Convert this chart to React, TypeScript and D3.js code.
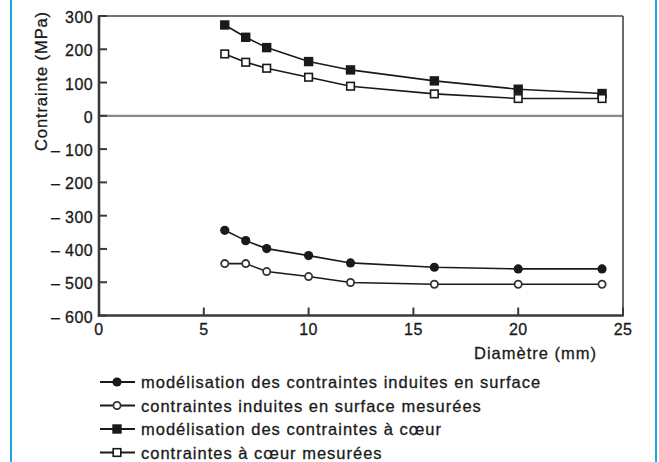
import React from "react";
import * as d3 from "d3";

// Diameters (mm) at which stresses were evaluated
const diameters = [6, 7, 8, 10, 12, 16, 20, 24];

// Stress values (MPa)
const surfaceModel = [-344, -375, -399, -420, -442, -455, -460, -460];
const surfaceMeasured = [-444, -444, -468, -483, -501, -506, -506, -506];
const coreModel = [273, 236, 205, 163, 138, 105, 80, 67];
const coreMeasured = [186, 161, 143, 116, 89, 66, 52, 52];

const yTicks = [300, 200, 100, 0, -100, -200, -300, -400, -500, -600];
const xTicks = [0, 5, 10, 15, 20, 25];

const legendLabels = [
  "modélisation des contraintes induites en surface",
  "contraintes induites en surface mesurées",
  "modélisation des contraintes à cœur",
  "contraintes à cœur mesurées",
];

type MarkerKind = "circleFilled" | "circleOpen" | "squareFilled" | "squareOpen";

const seriesList: { values: number[]; marker: MarkerKind }[] = [
  { values: surfaceModel, marker: "circleFilled" },
  { values: surfaceMeasured, marker: "circleOpen" },
  { values: coreModel, marker: "squareFilled" },
  { values: coreMeasured, marker: "squareOpen" },
];

const W = 659;
const H = 462;
const FONT = "'Liberation Sans', Arial, Helvetica, sans-serif";
const INK = "#1a1a1a";

function Marker({ kind, x, y }: { kind: MarkerKind; x: number; y: number }) {
  switch (kind) {
    case "circleFilled":
      return <circle cx={x} cy={y} r={4.6} fill={INK} />;
    case "circleOpen":
      return <circle cx={x} cy={y} r={3.6} fill="#fff" stroke="#333" strokeWidth={1.8} />;
    case "squareFilled":
      return <rect x={x - 4.7} y={y - 4.7} width={9.4} height={9.4} fill={INK} />;
    case "squareOpen":
      return (
        <rect x={x - 3.8} y={y - 3.8} width={7.6} height={7.6} fill="#fff" stroke={INK} strokeWidth={1.6} />
      );
  }
}

export default function App() {
  const x = d3.scaleLinear().domain([0, 25]).range([99, 623]);
  const y = d3.scaleLinear().domain([-600, 300]).range([315.5, 16]);

  const line = d3
    .line<number>()
    .x((_, i) => x(diameters[i]))
    .y((v) => y(v));

  const [x0, x1] = x.range();
  const [yb, yt] = y.range();

  const fmt = (v: number) => (v < 0 ? `\u2013 ${Math.abs(v)}` : `${v}`);

  const legendY = [382, 405.5, 429, 452.5];

  // Text is drawn with a hairline stroke to give it the weight of the printed labels
  const textStyle = { stroke: INK, strokeWidth: 0.3 };

  return (
    <svg
      width={W}
      height={H}
      style={{ position: "absolute", left: 0, top: 0, background: "#fff" }}
      fontFamily={FONT}
    >
      {/* side rules */}
      <line x1={11} x2={11} y1={0} y2={H} stroke="#19a9e3" strokeWidth={2} />
      <line x1={656} x2={656} y1={0} y2={H} stroke="#19a9e3" strokeWidth={2} />

      {/* zero line */}
      <line x1={x0} x2={x1} y1={y(0)} y2={y(0)} stroke="#8a8a8a" strokeWidth={2.2} />

      {/* frame */}
      <line x1={x0} x2={x1} y1={yt} y2={yt} stroke="#444" strokeWidth={1.6} />
      <line x1={x1} x2={x1} y1={yt} y2={yb} stroke="#444" strokeWidth={1.6} />
      <line x1={x0} x2={x0} y1={yt - 0.8} y2={yb + 1.2} stroke="#3a3a3a" strokeWidth={2.6} />
      <line x1={x0 - 1.2} x2={x1 + 0.8} y1={yb} y2={yb} stroke="#3a3a3a" strokeWidth={2.6} />

      {/* y ticks */}
      {yTicks.map((t) => (
        <g key={`y${t}`}>
          <line x1={x0} x2={x0 + 8} y1={y(t)} y2={y(t)} stroke="#3a3a3a" strokeWidth={2} />
          <text
            x={93}
            y={y(t) + 7}
            textAnchor="end"
            fontSize={16}
            letterSpacing={0.4}
            fill={INK}
            style={textStyle}
          >
            {fmt(t)}
          </text>
        </g>
      ))}

      {/* x ticks */}
      {xTicks.map((t) => (
        <g key={`x${t}`}>
          <line x1={x(t)} x2={x(t)} y1={yb} y2={yb - 8} stroke="#3a3a3a" strokeWidth={2} />
          <text
            x={x(t)}
            y={335}
            textAnchor="middle"
            fontSize={16}
            letterSpacing={0.4}
            fill={INK}
            style={textStyle}
          >
            {t}
          </text>
        </g>
      ))}

      {/* axis titles */}
      <text
        transform={`translate(47,81) rotate(-90)`}
        textAnchor="middle"
        fontSize={16.5}
        letterSpacing={0.9}
        fill={INK}
        style={textStyle}
      >
        Contrainte (MPa)
      </text>
      <text
        x={597}
        y={359}
        textAnchor="end"
        fontSize={16.5}
        letterSpacing={1.0}
        fill={INK}
        style={textStyle}
      >
        Diamètre (mm)
      </text>

      {/* series */}
      {seriesList.map((s, si) => (
        <g key={`s${si}`}>
          <path d={line(s.values) ?? ""} fill="none" stroke={INK} strokeWidth={1.6} />
          {s.values.map((v, i) => (
            <Marker key={i} kind={s.marker} x={x(diameters[i])} y={y(v)} />
          ))}
        </g>
      ))}

      {/* legend */}
      {seriesList.map((s, i) => (
        <g key={`l${i}`}>
          <line x1={100} x2={135} y1={legendY[i]} y2={legendY[i]} stroke={INK} strokeWidth={1.8} />
          <Marker kind={s.marker} x={117} y={legendY[i]} />
          <text
            x={141}
            y={legendY[i] + 6}
            fontSize={16.5}
            letterSpacing={1.0}
            fill={INK}
            style={textStyle}
          >
            {legendLabels[i]}
          </text>
        </g>
      ))}
    </svg>
  );
}
